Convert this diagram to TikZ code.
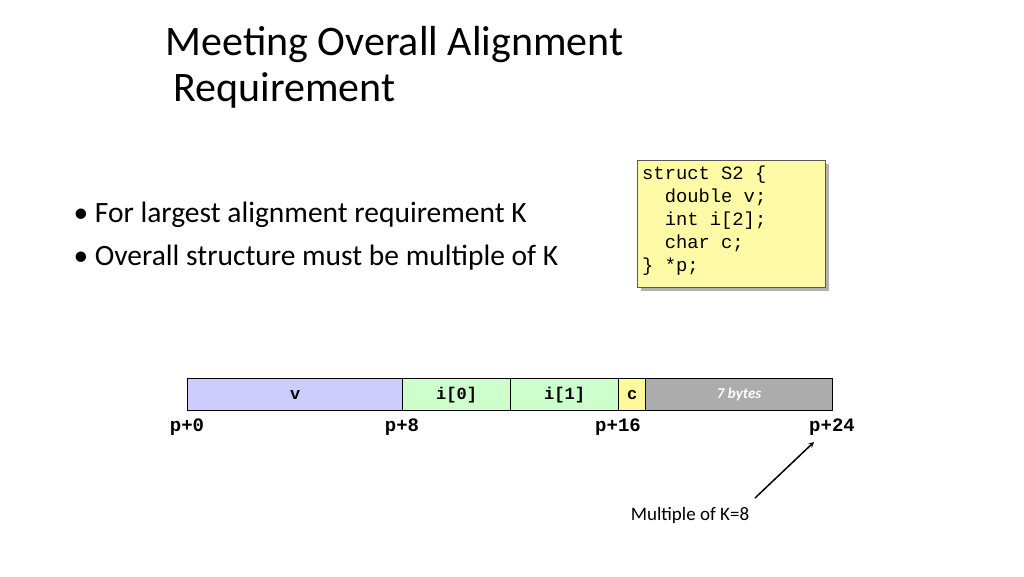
\documentclass[tikz,border=0pt]{standalone}
\usepackage{fontspec}
\setmainfont{Carlito}
\newfontfamily\cour{Liberation Mono}
\begin{document}
\begin{tikzpicture}[x=1pt,y=-1pt,
  cell/.style={draw=black,line width=1.2pt,minimum height=32pt,inner sep=0pt,anchor=north west,font=\cour\bfseries\fontsize{17}{17}\selectfont},
  lbl/.style={font=\cour\bfseries\fontsize{19}{19}\selectfont}]
\useasboundingbox (0,0) rectangle (1024,576);
\node[anchor=west,font=\fontsize{42}{42}\selectfont] (t1) at (162,45) {Meeting Overall Alignment};
\node[anchor=west,font=\fontsize{42}{42}\selectfont] (t2) at (170,90) {Requirement};
\node[anchor=west,font=\fontsize{29.5}{29.5}\selectfont] (b1) at (70,215) {\textbullet\ For largest alignment requirement K};
\node[anchor=west,font=\fontsize{29.5}{29.5}\selectfont] (b2) at (70,258) {\textbullet\ Overall structure must be multiple of K};
\fill[gray!60] (641,164) rectangle (829,291);
\node[draw=gray!70!black,fill=yellow!35,anchor=north west,minimum width=188pt,minimum height=127pt,inner sep=0pt] (sbox) at (637,160) {};
\node[anchor=north west,align=left,font=\cour\fontsize{18.8}{23}\selectfont,inner sep=0pt] (code) at (642,166)
{struct S2 \{\\\ \ double v;\\\ \ int i[2];\\\ \ char c;\\\} *p;};
\node[cell,fill=blue!20,minimum width=215pt] (v) at (187,378) {v};
\node[cell,fill=green!20,minimum width=108pt] (i0) at (402,378) {i[0]};
\node[cell,fill=green!20,minimum width=108pt] (i1) at (510,378) {i[1]};
\node[cell,fill=yellow!40,minimum width=27pt] (c) at (618,378) {c};
\node[cell,fill=gray!65,minimum width=187pt,font=\itshape\bfseries\fontsize{15}{15}\selectfont,text=white] (pad) at (645,378) {7 bytes};
\node[lbl] (p0) at (187,427) {p+0};
\node[lbl] (p8) at (402,427) {p+8};
\node[lbl] (p16) at (618,427) {p+16};
\node[lbl] (p24) at (832,427) {p+24};
\node[font=\fontsize{19}{19}\selectfont] (m) at (690,515) {Multiple of K=8};
\coordinate (a0) at (755,498);
\coordinate (a1) at (814,442);
\draw[line width=1.5pt,-stealth] (a0) -- (a1);
\end{tikzpicture}
\end{document}
